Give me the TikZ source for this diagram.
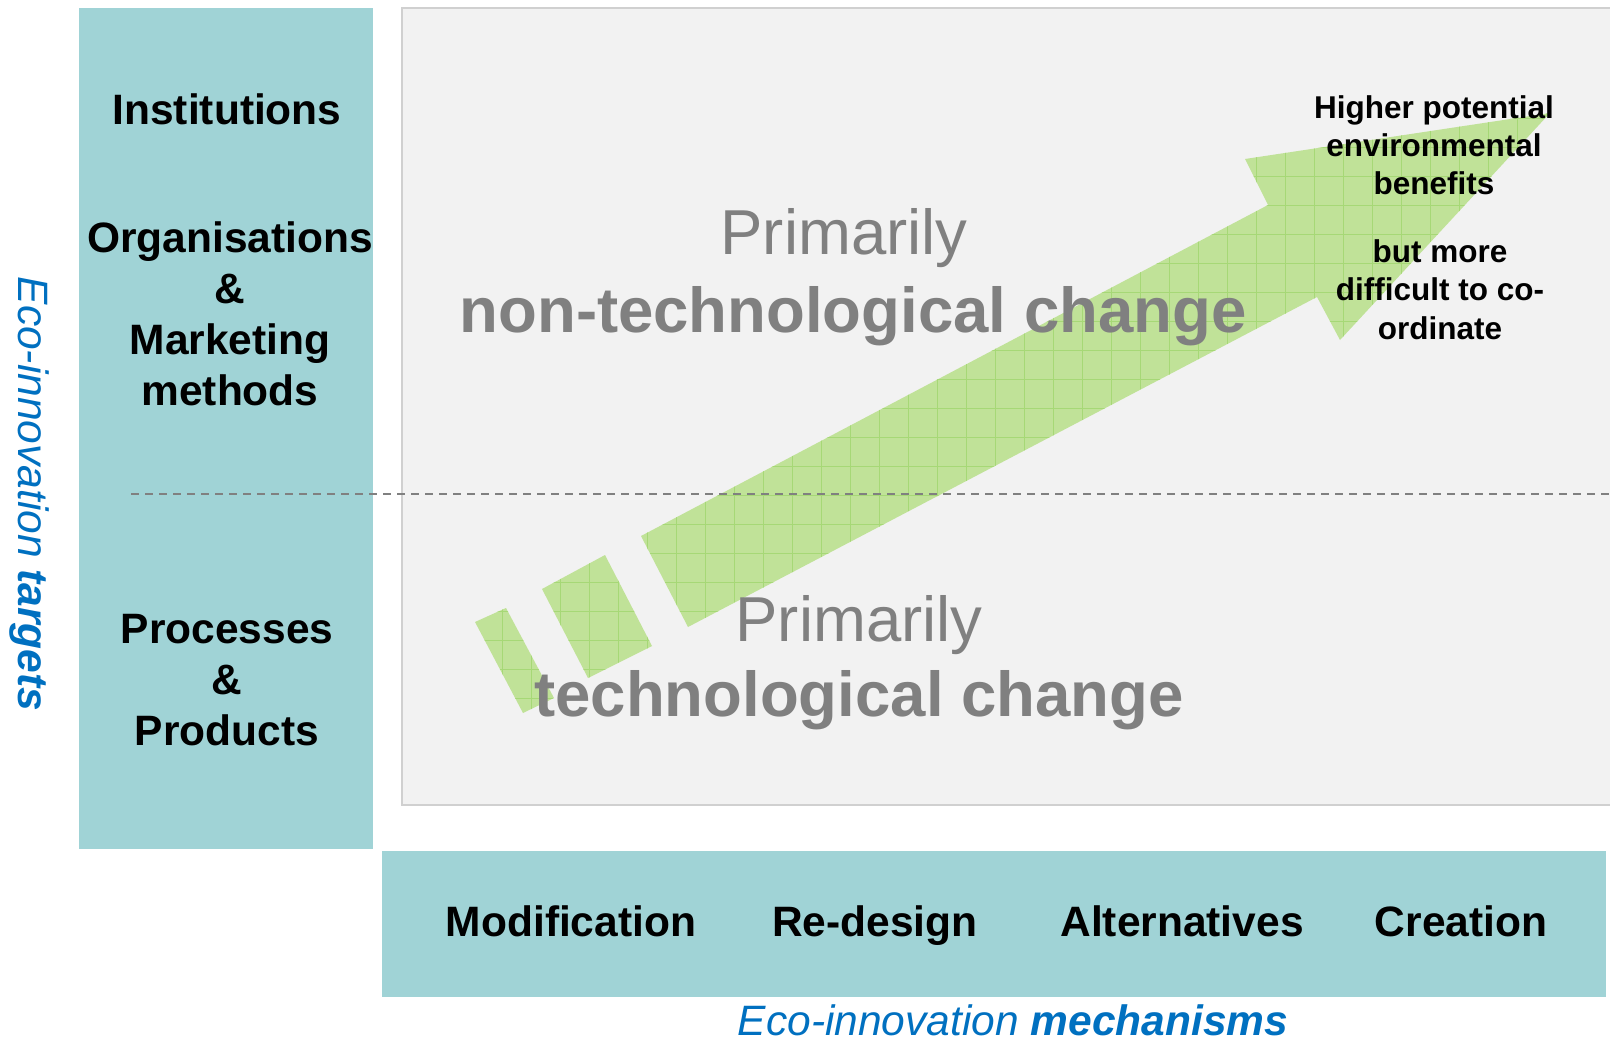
\documentclass[tikz,border=0pt]{standalone}
\usepackage{fontspec}
\setmainfont{Liberation Sans}
\definecolor{tealbox}{RGB}{160,211,214}
\definecolor{panelgray}{RGB}{242,242,242}
\definecolor{bordergray}{RGB}{208,208,208}
\definecolor{txtgray}{RGB}{128,128,128}
\definecolor{ecoblue}{RGB}{0,112,192}
\definecolor{arrowgreen}{RGB}{192,226,152}
\definecolor{gridgreen}{RGB}{166,216,118}
\newcommand\ecoArrowPath{(641,536) -- (1268,205) -- (1245,159) -- (1550,113) -- (1340,340) -- (1317,297) -- (688,627) -- cycle}
\newcommand\ecoBlockB{(542,589) -- (605,555) -- (652,646) -- (588,678) -- cycle}
\newcommand\ecoBlockA{(475,622) -- (506,608) -- (554,698) -- (523,713) -- cycle}
\begin{document}
\begin{tikzpicture}[x=1pt,y=-1pt,
  tgt/.style={font=\fontsize{42.5}{51}\selectfont\bfseries, anchor=base, inner sep=0pt},
  grayt/.style={font=\fontsize{63.5}{76}\selectfont, text=txtgray, anchor=base, inner sep=0pt},
  note/.style={font=\fontsize{31.5}{37}\selectfont\bfseries, anchor=base, inner sep=0pt},
  bluet/.style={font=\fontsize{42.5}{51}\selectfont\itshape, text=ecoblue, anchor=base, inner sep=0pt},
  greenshape/.style={fill=arrowgreen, draw=none},
  gridln/.style={draw=gridgreen, line width=0.8pt},
  divider/.style={draw=txtgray, line width=2pt, dash pattern=on 8pt off 6pt},
]
\useasboundingbox (0,0) rectangle (1610,1043);
\fill[white] (0,0) rectangle (1610,1043);
% panels
\fill[tealbox] (79,8) rectangle (373,849);
\fill[panelgray] (402,8) rectangle (1610,805);
\draw[bordergray, line width=1.5pt] (1610,8) -- (402,8) -- (402,805) -- (1610,805);
\fill[tealbox] (382,851) rectangle (1606,997);
% arrow
\path[greenshape] \ecoArrowPath;
\path[greenshape] \ecoBlockB;
\path[greenshape] \ecoBlockA;
\begin{scope}
\clip \ecoArrowPath \ecoBlockB \ecoBlockA;
\foreach \i in {15,...,54} { \draw[gridln] ({9+29*\i},80) -- ({9+29*\i},730); }
\foreach \j in {2,...,25} { \draw[gridln] (450,{2+29*\j}) -- (1570,{2+29*\j}); }
\end{scope}
% divider
\coordinate (dvL) at (131,494);
\coordinate (dvR) at (1610,494);
\draw[divider] (dvL) -- (dvR);
% targets
\node[tgt] (inst) at (227,125) {Institutions};
\node[tgt] (org) at (230,253) {Organisations};
\node[tgt] (amp1) at (230,304) {\&};
\node[tgt] (mkt) at (230,354) {Marketing};
\node[tgt] (meth) at (230,405) {methods};
\node[tgt] (proc) at (227,643) {Processes};
\node[tgt] (amp2) at (227,694) {\&};
\node[tgt] (prod) at (227,745) {Products};
% mechanisms
\node[tgt] (modi) at (571,936) {Modification};
\node[tgt] (rede) at (875,936) {Re-design};
\node[tgt] (alte) at (1182,936) {Alternatives};
\node[tgt] (crea) at (1461,936) {Creation};
% gray texts
\node[grayt] (prim1) at (844,255) {Primarily};
\node[grayt, font=\fontsize{63.5}{76}\selectfont\bfseries] (nontech) at (853,332) {non-technological change};
\node[grayt] (prim2) at (859,641) {Primarily};
\node[grayt, font=\fontsize{63.5}{76}\selectfont\bfseries] (tech) at (859,716) {technological change};
% note
\node[note] (n1) at (1434,119) {Higher potential};
\node[note] (n2) at (1434,157) {environmental};
\node[note] (n3) at (1434,195) {benefits};
\node[note] (n4) at (1440,263) {but more};
\node[note] (n5) at (1440,301) {difficult to co-};
\node[note] (n6) at (1440,339) {ordinate};
% axis labels
\node[bluet] (mechlbl) at (1013,1035) {Eco-innovation \textbf{mechanisms}};
\node[bluet, rotate=-90] (tgtlbl) at (18,494) {Eco-innovation \textbf{targets}};
\end{tikzpicture}
\end{document}
